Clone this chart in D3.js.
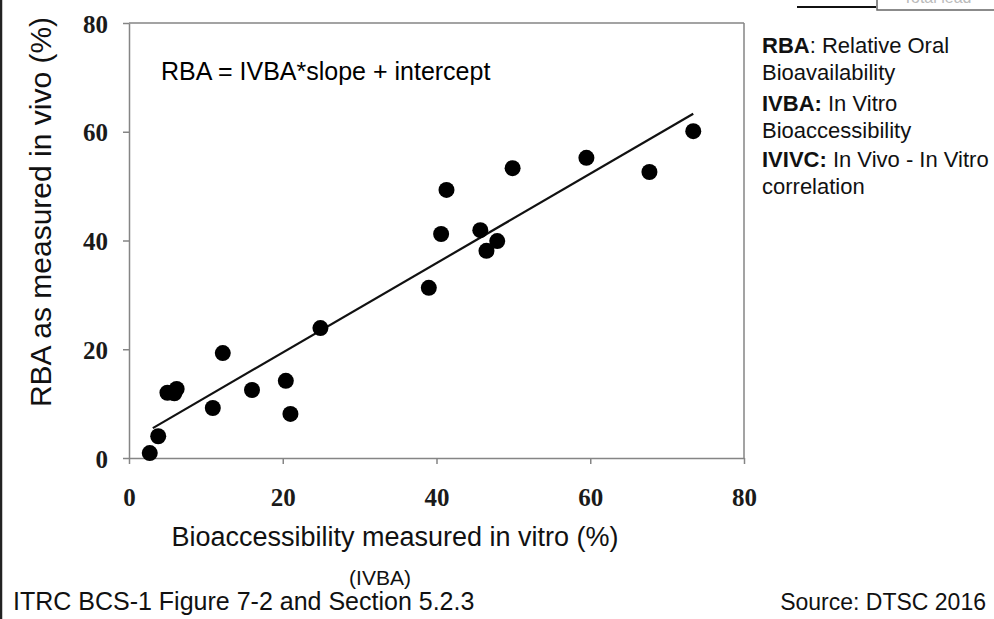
<!DOCTYPE html>
<html>
<head>
<meta charset="utf-8">
<script src="https://cdn.jsdelivr.net/npm/d3@7"></script>
<style>
  html, body { margin: 0; padding: 0; background: #fff; }
  svg { display: block; }
</style>
</head>
<body>
<svg id="chart" width="994" height="619"></svg>
<script>
// ---- data ----
const ivba = [2.7, 3.8, 5.0, 5.9, 6.2, 10.9, 12.2, 16.0, 20.4, 21.0, 24.9, 39.0, 40.6, 41.3, 45.7, 46.5, 47.9, 49.9, 59.5, 67.7, 73.4];
const rba  = [0.9, 4.0, 12.0, 11.9, 12.7, 9.2, 19.3, 12.5, 14.2, 8.1, 23.9, 31.3, 41.2, 49.3, 41.9, 38.1, 39.9, 53.3, 55.2, 52.6, 60.1];
const fitX = [3.1, 73.4];
const fitY = [5.5, 63.3];
const xTicks = [0, 20, 40, 60, 80];
const yTicks = [0, 20, 40, 60, 80];
const xDomain = [0, 80];
const yDomain = [0, 80];

const equationText = "RBA = IVBA*slope + intercept";
const xTitle = "Bioaccessibility measured in vitro (%)";
const xSubTitle = "(IVBA)";
const yTitle = "RBA as measured in vivo (%)";
const footLeft = "ITRC BCS-1 Figure 7-2 and Section 5.2.3";
const footRight = "Source: DTSC 2016";
const glossBold = ["RBA", "", "IVBA:", "", "IVIVC:", ""];
const glossRest = [": Relative Oral", "Bioavailability", " In Vitro", "Bioaccessibility", " In Vivo - In Vitro", "correlation"];
const cutBoxText = "Total lead";

// ---- drawing ----
const svg = d3.select("#chart");
const sans = "'Liberation Sans', Arial, sans-serif";
const serif = "'Liberation Serif', 'Times New Roman', serif";
const frameColor = "#858585";

const x = d3.scaleLinear().domain(xDomain).range([129, 744]);
const y = d3.scaleLinear().domain(yDomain).range([458, 23]);

// left page border
svg.append("line").attr("x1", 1).attr("x2", 1).attr("y1", 0).attr("y2", 619)
  .attr("stroke", "#222").attr("stroke-width", 2.5);

// top-right cut-off legend fragment
svg.append("line").attr("x1", 797).attr("x2", 876).attr("y1", 7).attr("y2", 7)
  .attr("stroke", "#111").attr("stroke-width", 2);
svg.append("path").attr("d", "M877,0 V10 H994")
  .attr("fill", "none").attr("stroke", "#666").attr("stroke-width", 1.5);
svg.append("text").attr("x", 903).attr("y", 3).text(cutBoxText)
  .attr("font-family", sans).attr("font-size", 16).attr("fill", "#bbb");

// plot frame top and right
svg.append("line").attr("x1", x(xDomain[0])).attr("x2", x(xDomain[1]))
  .attr("y1", y(yDomain[1])).attr("y2", y(yDomain[1]))
  .attr("stroke", frameColor).attr("stroke-width", 1.5);
svg.append("line").attr("x1", x(xDomain[1])).attr("x2", x(xDomain[1]))
  .attr("y1", y(yDomain[1])).attr("y2", y(yDomain[0]))
  .attr("stroke", frameColor).attr("stroke-width", 1.5);

// axes
const xAxis = d3.axisBottom(x).tickValues(xTicks).tickSizeInner(6).tickSizeOuter(0).tickPadding(24);
const yAxis = d3.axisLeft(y).tickValues(yTicks).tickSizeInner(6).tickSizeOuter(0).tickPadding(15);

const gx = svg.append("g").attr("transform", `translate(0,${y(0)})`).call(xAxis);
const gy = svg.append("g").attr("transform", `translate(${x(0)},0)`).call(yAxis);

[gx, gy].forEach(g => {
  g.select(".domain").attr("stroke", frameColor).attr("stroke-width", 1.5);
  g.selectAll(".tick line").attr("stroke", frameColor).attr("stroke-width", 1.5);
  g.selectAll(".tick text").attr("font-family", serif).attr("font-weight", "bold")
    .attr("font-size", 25).attr("fill", "#1a1a1a");
});
gy.selectAll(".tick text").attr("dy", "0.36em");
gx.selectAll(".tick text").attr("dy", "0.71em");

// regression line
svg.append("line")
  .attr("x1", x(fitX[0])).attr("y1", y(fitY[0]))
  .attr("x2", x(fitX[1])).attr("y2", y(fitY[1]))
  .attr("stroke", "#111").attr("stroke-width", 2.2);

// points
svg.append("g").selectAll("circle").data(ivba.map((v, i) => [v, rba[i]])).join("circle")
  .attr("cx", d => x(d[0])).attr("cy", d => y(d[1])).attr("r", 8).attr("fill", "#000");

// equation
svg.append("text").attr("x", 161).attr("y", 80).text(equationText)
  .attr("font-family", sans).attr("font-size", 25).attr("fill", "#000");

// axis titles
svg.append("text").attr("x", 395).attr("y", 546).attr("text-anchor", "middle").text(xTitle)
  .attr("font-family", sans).attr("font-size", 27).attr("fill", "#111");
svg.append("text").attr("x", 380).attr("y", 585).attr("text-anchor", "middle").text(xSubTitle)
  .attr("font-family", sans).attr("font-size", 21).attr("fill", "#111");
svg.append("text").attr("transform", "translate(51,212) rotate(-90)").attr("text-anchor", "middle")
  .text(yTitle).attr("font-family", sans).attr("font-size", 30).attr("fill", "#111");

// glossary
const glossY = [53, 80, 111, 138, 167, 194];
const gl = svg.append("g").attr("font-family", sans).attr("font-size", 22).attr("fill", "#111");
glossRest.forEach((t, i) => {
  const tx = gl.append("text").attr("x", 762).attr("y", glossY[i]);
  if (glossBold[i]) tx.append("tspan").attr("font-weight", "bold").text(glossBold[i]);
  tx.append("tspan").text(t);
});

// footers
svg.append("text").attr("x", 13).attr("y", 610).text(footLeft)
  .attr("font-family", sans).attr("font-size", 25).attr("fill", "#111");
svg.append("text").attr("x", 986).attr("y", 610).attr("text-anchor", "end").text(footRight)
  .attr("font-family", sans).attr("font-size", 23).attr("fill", "#111");
</script>
</body>
</html>
